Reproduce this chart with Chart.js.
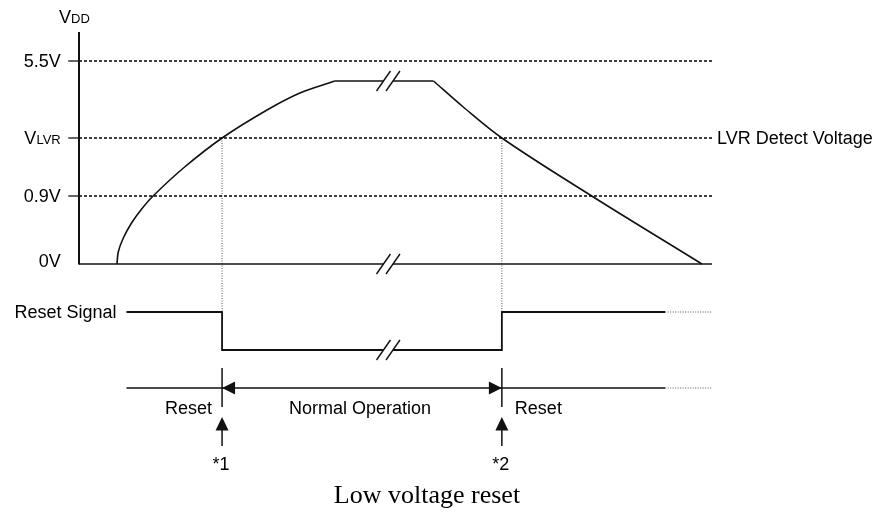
<!DOCTYPE html>
<html>
<head>
<meta charset="utf-8">
<title>Low voltage reset</title>
<script src="https://cdn.jsdelivr.net/npm/chart.js@4.4.1/dist/chart.umd.min.js"></script>
<style>
html, body { margin: 0; padding: 0; background: #fff; }
</style>
</head>
<body>
<canvas id="lvrChart" width="883" height="512"></canvas>
<script>
// x = time (0 = VDD axis, 100 = right end), y = drawing level (0 = 0V)
const levelNames = ['5.5V', 'VLVR', '0.9V'];
const levelValues = [20.3, 12.6, 6.8];
const axisTop = 23.2;

const riseT = [6.0, 6.2, 7.0, 8.3, 9.9, 11.7, 16.5, 22.6, 29.7, 34.9, 40.4];
const riseV = [0, 1.2, 2.6, 4.1, 5.5, 6.8, 9.6, 12.6, 15.4, 17.1, 18.3];
const fallT = [56.0, 60.7, 66.8, 81.0, 98.4];
const fallV = [18.3, 15.7, 12.6, 6.8, 0];

const t1 = 22.6;          // *1 : reset released
const t2 = 66.8;          // *2 : reset asserted
const breakT = [48.1, 49.6];
const lineStart = 7.5;
const solidEnd = 92.6;
const lineEnd = 100;

const resetHigh = -4.8;
const resetLow = -8.6;
const timeLine = -12.4;
const tickTop = -10.4;
const tickBottom = -14.3;
const upArrowTip = -15.3;
const upArrowFoot = -18.2;

const INK = '#111';

function pts(xs, ys)
{
    const out = [];
    for (let i = 0; i < xs.length; i++)
    {
        out.push({x: xs[i], y: ys[i]});
    }
    return out;
}

function seg(x1, y1, x2, y2)
{
    return [{x: x1, y: y1}, {x: x2, y: y2}];
}

function solid(data, width)
{
    return {data: data, borderColor: INK, borderWidth: width || 1.6, pointRadius: 0, tension: 0};
}

function dashed(data)
{
    return {data: data, borderColor: '#000', borderWidth: 1.3, borderDash: [3, 2], pointRadius: 0};
}

function dotted(data)
{
    return {data: data, borderColor: '#555', borderWidth: 1, borderDash: [1, 1.5], pointRadius: 0};
}

function slashes(y)
{
    // two "//" break marks at the same spot on each row
    return breakT.map(function (t) { return solid(seg(t - 1.1, y - 1.0, t + 1.1, y + 1.0), 1.4); });
}

const datasets = [];

// VDD axis and 0V baseline with its break
datasets.push(solid(seg(0, -0.05, 0, axisTop), 2));
datasets.push(solid(seg(0, 0, breakT[0], 0)));
datasets.push(solid(seg(breakT[1], 0, lineEnd, 0)));

// voltage levels
for (let i = 0; i < levelValues.length; i++)
{
    datasets.push(solid(seg(-1.7, levelValues[i], 0, levelValues[i]), 1.3));
    datasets.push(dashed(seg(0, levelValues[i], lineEnd, levelValues[i])));
}

// VDD curve
datasets.push({data: pts(riseT, riseV), borderColor: INK, borderWidth: 1.6, pointRadius: 0, tension: 0.35});
datasets.push(solid(seg(riseT[riseT.length - 1], riseV[riseV.length - 1], breakT[0], riseV[riseV.length - 1])));
datasets.push(solid(seg(breakT[1], fallV[0], fallT[0], fallV[0])));
datasets.push({data: pts(fallT, fallV), borderColor: INK, borderWidth: 1.6, pointRadius: 0, tension: 0.35});

// break marks
slashes(18.3).forEach(function (d) { datasets.push(d); });
slashes(0).forEach(function (d) { datasets.push(d); });
slashes(resetLow).forEach(function (d) { datasets.push(d); });

// dotted guides from VLVR crossing down to reset signal
datasets.push(dotted(seg(t1, levelValues[1], t1, resetHigh)));
datasets.push(dotted(seg(t2, levelValues[1], t2, resetHigh)));

// reset signal
datasets.push(solid([{x: lineStart, y: resetHigh}, {x: t1, y: resetHigh}, {x: t1, y: resetLow}, {x: breakT[0], y: resetLow}], 1.8));
datasets.push(solid([{x: breakT[1], y: resetLow}, {x: t2, y: resetLow}, {x: t2, y: resetHigh}, {x: solidEnd, y: resetHigh}], 1.8));
datasets.push(dotted(seg(solidEnd, resetHigh, lineEnd, resetHigh)));

// time line with state markers
datasets.push(solid(seg(lineStart, timeLine, solidEnd, timeLine), 1.5));
datasets.push(dotted(seg(solidEnd, timeLine, lineEnd, timeLine)));
datasets.push(solid(seg(t1, tickTop, t1, tickBottom), 1.5));
datasets.push(solid(seg(t2, tickTop, t2, tickBottom), 1.5));
datasets.push(solid(seg(t1, upArrowTip - 1.3, t1, upArrowFoot), 1.5));
datasets.push(solid(seg(t2, upArrowTip - 1.3, t2, upArrowFoot), 1.5));

const SANS = '"Liberation Sans", Arial, sans-serif';

function triangle(ctx, ax, ay, bx, by, cx, cy)
{
    ctx.beginPath();
    ctx.moveTo(ax, ay);
    ctx.lineTo(bx, by);
    ctx.lineTo(cx, cy);
    ctx.closePath();
    ctx.fill();
}

const annotations = {
    id: 'annotations',
    afterDatasetsDraw: function (chart)
    {
        const ctx = chart.ctx;
        const xs = chart.scales.x;
        const ys = chart.scales.y;
        const px = function (v) { return xs.getPixelForValue(v); };
        const py = function (v) { return ys.getPixelForValue(v); };

        ctx.save();
        ctx.fillStyle = INK;

        // arrow heads on time line
        const ty = py(timeLine);
        triangle(ctx, px(t1), ty, px(t1) + 13, ty - 6.5, px(t1) + 13, ty + 6.5);
        triangle(ctx, px(t2), ty, px(t2) - 13, ty - 6.5, px(t2) - 13, ty + 6.5);
        const uy = py(upArrowTip);
        [t1, t2].forEach(function (t)
        {
            triangle(ctx, px(t), uy, px(t) - 6.5, uy + 13.5, px(t) + 6.5, uy + 13.5);
        });

        ctx.fillStyle = '#000';
        ctx.textBaseline = 'alphabetic';

        // VDD title
        const ax = px(0);
        ctx.textAlign = 'left';
        ctx.font = '18px ' + SANS;
        ctx.fillText('V', ax - 20, py(axisTop) - 9.5);
        ctx.font = '13px ' + SANS;
        ctx.fillText('DD', ax - 8, py(axisTop) - 9.5);

        // level labels
        ctx.textAlign = 'right';
        for (let i = 0; i < levelNames.length; i++)
        {
            const y = py(levelValues[i]) + 5.5;
            if (levelNames[i] == 'VLVR')
            {
                ctx.font = '13px ' + SANS;
                ctx.fillText('LVR', ax - 18.3, y);
                const w = ctx.measureText('LVR').width;
                ctx.font = '18px ' + SANS;
                ctx.fillText('V', ax - 18.3 - w, y);
            }
            else
            {
                ctx.font = '18px ' + SANS;
                ctx.fillText(levelNames[i], ax - 18.3, y);
            }
        }
        ctx.font = '18px ' + SANS;
        ctx.fillText('0V', ax - 18.3, py(0) + 3);

        ctx.textAlign = 'left';
        ctx.fillText('LVR Detect Voltage', px(lineEnd) + 5, py(levelValues[1]) + 6);

        ctx.textAlign = 'right';
        ctx.fillText('Reset Signal', px(lineStart) - 10, py(resetHigh) + 6);

        // state labels
        const ly = py(timeLine) + 26;
        ctx.fillText('Reset', px(t1) - 10, ly);
        ctx.textAlign = 'center';
        ctx.fillText('Normal Operation', (px(t1) + px(t2)) / 2 - 2, ly);
        ctx.textAlign = 'left';
        ctx.fillText('Reset', px(t2) + 13, ly);

        ctx.textAlign = 'center';
        ctx.fillText('*1', px(t1) - 1, py(upArrowFoot) + 24);
        ctx.fillText('*2', px(t2) - 1, py(upArrowFoot) + 24);

        // caption
        ctx.font = '26px "Liberation Serif", "Times New Roman", serif';
        ctx.fillText('Low voltage reset', 427, 503);

        ctx.restore();
    }
};

const ctx = document.getElementById('lvrChart').getContext('2d');
const lvrChart = new Chart(ctx, {
    type: 'line',
    data: {datasets: datasets},
    options: {
        responsive: false,
        animation: false,
        layout: {padding: 0},
        scales: {
            x: {type: 'linear', min: -12.48, max: 127.01, display: false},
            y: {type: 'linear', min: -24.8, max: 26.4, display: false}
        },
        plugins: {
            legend: {display: false},
            tooltip: {enabled: false}
        }
    },
    plugins: [annotations]
});
</script>
</body>
</html>
